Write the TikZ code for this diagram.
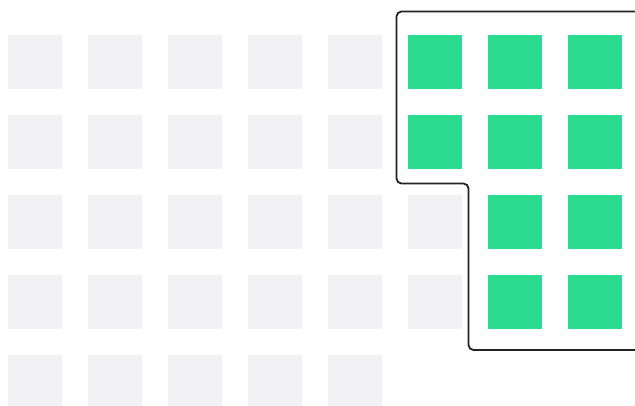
\documentclass[tikz,border=0pt]{standalone}

\definecolor{tilegray}{HTML}{F2F2F4}
\definecolor{tilegreen}{HTML}{2BDC90}
\definecolor{framedark}{HTML}{222222}

\begin{document}
\begin{tikzpicture}[x=1pt, y=-1pt]
    % 画布范围 635 x 405
    \useasboundingbox (0,0) rectangle (635,405);

    % 灰色方块：5 行 8 列，最后一行只有 5 个
    \foreach \r in {0,...,3} {
        \foreach \c in {0,...,7} {
            \fill[tilegray] (8+80*\c, 35+80*\r) rectangle ++(54,54);
        }
    }
    \foreach \c in {0,...,4} {
        \fill[tilegray] (8+80*\c, 355) rectangle ++(54,54);
    }

    % 绿色方块：前两行第 6--8 列，后两行第 7--8 列
    \foreach \r in {0,1} {
        \foreach \c in {5,6,7} {
            \fill[tilegreen] (8+80*\c, 35+80*\r) rectangle ++(54,54);
        }
    }
    \foreach \r in {2,3} {
        \foreach \c in {6,7} {
            \fill[tilegreen] (8+80*\c, 35+80*\r) rectangle ++(54,54);
        }
    }

    % 选区外框（右侧超出画布）
    \draw[framedark, line width=1.8pt, rounded corners=5pt]
        (660,11.5) -- (396.5,11.5) -- (396.5,183.5) -- (468.5,183.5)
        -- (468.5,350) -- (660,350);
\end{tikzpicture}
\end{document}
